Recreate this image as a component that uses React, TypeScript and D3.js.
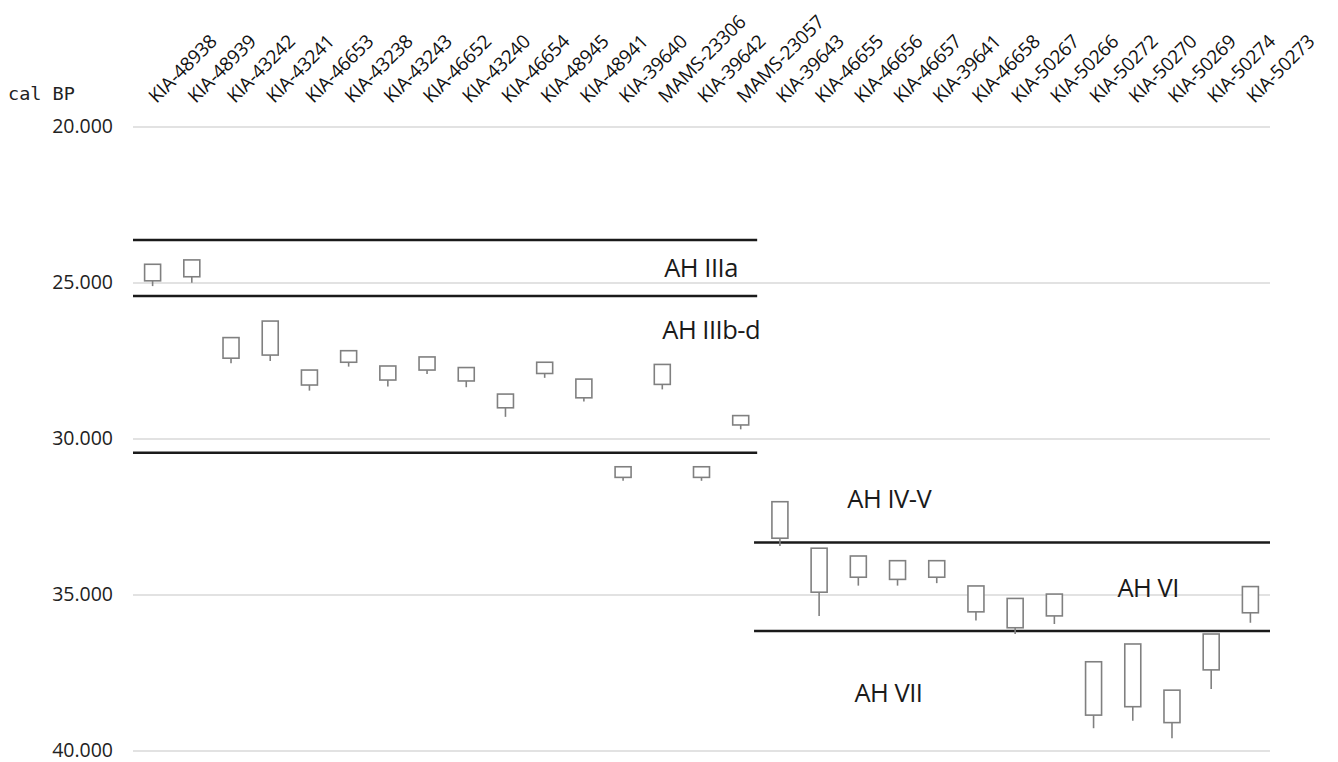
import React from "react";
import * as d3 from "d3";

const categories = [
  "KIA-48938", "KIA-48939", "KIA-43242", "KIA-43241", "KIA-46653", "KIA-43238",
  "KIA-43243", "KIA-46652", "KIA-43240", "KIA-46654", "KIA-48945", "KIA-48941",
  "KIA-39640", "MAMS-23306", "KIA-39642", "MAMS-23057", "KIA-39643", "KIA-46655",
  "KIA-46656", "KIA-46657", "KIA-39641", "KIA-46658", "KIA-50267", "KIA-50266",
  "KIA-50272", "KIA-50270", "KIA-50269", "KIA-50274", "KIA-50273",
];

// cal BP: box top (younger), box bottom, whisker end (older)
const boxTop = [
  24400, 24260, 26750, 26220, 27790, 27170, 27660, 27370, 27710, 28560, 27540, 28080,
  30890, 27610, 30890, 29250, 32010, 33500, 33750, 33900, 33900, 34710, 35110, 34970,
  37140, 36570, 38050, 36250, 34730,
];
const boxBottom = [
  24930, 24800, 27410, 27310, 28270, 27540, 28110, 27790, 28140, 29000, 27900, 28680,
  31230, 28250, 31230, 29550, 33180, 34910, 34430, 34500, 34430, 35540, 36050, 35670,
  38850, 38580, 39090, 37400, 35570,
];
const whiskerEnd = [
  25100, 24990, 27570, 27500, 28450, 27680, 28320, 27920, 28340, 29290, 28040, 28800,
  31340, 28410, 31340, 29690, 33430, 35670, 34700, 34700, 34620, 35820, 36250, 35930,
  39270, 39030, 39590, 38010, 35890,
];

const yTicks = [20000, 25000, 30000, 35000, 40000];

// layer boundaries: value, start & end in category units
const boundaryValues = [23620, 25420, 30440, 33320, 36150];
const boundaryStart = [0, 0, 0, 15.84, 15.84];
const boundaryEnd = [15.92, 15.92, 15.92, 29, 29];

const layerNames = ["AH IIIa", "AH IIIb-d", "AH IV-V", "AH VI", "AH VII"];
const layerPos = [13.55, 13.5, 18.22, 25.11, 18.4];
const layerValue = [24808, 26795, 32212, 35064, 38429];

const W = 1338;
const H = 762;

export default function App() {
  const x = d3.scaleBand<string>().domain(categories).range([133, 1270]).padding(0);
  const xl = d3.scaleLinear().domain([0, categories.length]).range([133, 1270]);
  const y = d3.scaleLinear().domain([20000, 40000]).range([127, 751]);
  const fmt = d3.formatLocale({ decimal: ",", thousands: ".", grouping: [3], currency: ["", ""] }).format(",.0f");
  const bw = 16;
  const font = "'Open Sans', 'Noto Sans', sans-serif";

  return (
    <svg width={W} height={H} style={{ position: "absolute", left: 0, top: 0, background: "#fff" }}>
      {/* gridlines */}
      {yTicks.map((t) => (
        <line key={"g" + t} x1={133} x2={1270} y1={y(t)} y2={y(t)} stroke="#d9d9d9" strokeWidth={1.5} />
      ))}
      {yTicks.map((t) => (
        <text key={"t" + t} x={113} y={y(t)} dy="0.33em" textAnchor="end" fontFamily={font} fontSize={19.5} fill="#222">
          {fmt(t)}
        </text>
      ))}
      <text x={8} y={100} fontFamily="'DejaVu Sans Mono', monospace" fontSize={18.5} fill="#222">cal BP</text>

      {/* category labels */}
      {categories.map((c) => {
        const cx = (x(c) as number) + x.bandwidth() / 2;
        return (
          <text key={"c" + c} transform={`translate(${cx + 4},${104}) rotate(-45)`} fontFamily={font} fontSize={19} letterSpacing={-0.3} fill="#111">
            {c}
          </text>
        );
      })}

      {/* layer boundaries */}
      {boundaryValues.map((v, i) => (
        <line key={"b" + i} x1={xl(boundaryStart[i])} x2={xl(boundaryEnd[i])} y1={y(v)} y2={y(v)} stroke="#1a1a1a" strokeWidth={2.5} />
      ))}

      {/* boxes */}
      {categories.map((c, i) => {
        const cx = (x(c) as number) + x.bandwidth() / 2;
        return (
          <g key={"box" + c}>
            <line x1={cx} x2={cx} y1={y(boxBottom[i])} y2={y(whiskerEnd[i])} stroke="#808080" strokeWidth={1.6} />
            <rect x={cx - bw / 2} y={y(boxTop[i])} width={bw} height={y(boxBottom[i]) - y(boxTop[i])} fill="#fff" stroke="#808080" strokeWidth={1.6} />
          </g>
        );
      })}

      {/* layer labels */}
      {layerNames.map((n, i) => (
        <text key={"l" + n} x={xl(layerPos[i])} y={y(layerValue[i])} fontFamily={font} fontSize={25.5} fill="#1a1a1a" letterSpacing={-0.5}>
          {n}
        </text>
      ))}
    </svg>
  );
}
